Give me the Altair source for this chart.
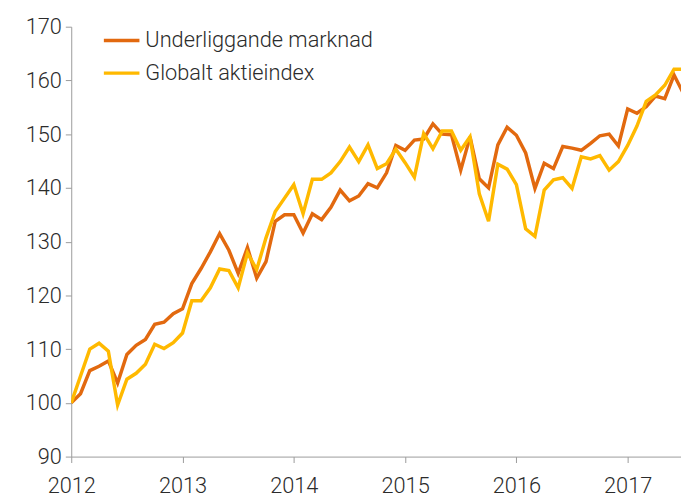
import altair as alt
import pandas as pd

series_names = ["Underliggande marknad", "Globalt aktieindex"]
colors = ["#E2690F", "#FFB900"]

underliggande = [
    100.0, 101.7, 106.0, 106.8, 107.8, 103.7, 109.0, 110.7, 111.8, 114.6, 115.0, 116.6,
    117.5, 122.2, 125.0, 128.1, 131.5, 128.4, 124.1, 128.9, 123.2, 126.3, 133.8, 135.0,
    135.0, 131.6, 135.2, 134.1, 136.4, 139.6, 137.6, 138.5, 140.8, 140.0, 142.8, 147.9,
    147.0, 148.9, 149.1, 151.9, 150.0, 149.9, 143.3, 149.5, 141.7, 140.0, 148.0, 151.3,
    149.8, 146.5, 139.9, 144.6, 143.6, 147.7, 147.4, 147.0, 148.3, 149.7, 150.0, 147.8,
    154.7, 153.9, 155.1, 157.1, 156.6, 161.0, 157.6,
]
globalt = [
    100.0, 105.0, 110.0, 111.1, 109.6, 99.6, 104.4, 105.5, 107.2, 110.9, 110.1, 111.2,
    113.0, 119.0, 119.0, 121.4, 124.9, 124.6, 121.4, 127.9, 124.8, 130.7, 135.6, 138.1,
    140.6, 135.2, 141.6, 141.6, 142.8, 144.9, 147.6, 144.9, 148.0, 143.6, 144.5, 147.2,
    144.7, 142.0, 150.1, 147.3, 150.6, 150.6, 147.0, 149.5, 138.9, 133.8, 144.4, 143.5,
    140.6, 132.4, 131.0, 139.6, 141.5, 141.9, 139.9, 145.8, 145.4, 146.0, 143.3, 144.9,
    147.9, 151.5, 156.1, 157.3, 159.1, 162.1, 162.1,
]
start_year = 2012
year_ticks = [2012, 2013, 2014, 2015, 2016, 2017]
y_ticks = [90, 100, 110, 120, 130, 140, 150, 160, 170]

rows = []
for name, vals in zip(series_names, [underliggande, globalt]):
    for i, v in enumerate(vals):
        rows.append({"t": start_year + i / 12, "serie": name, "v": v})
df = pd.DataFrame(rows)

FONT = "Roboto"
axis_color = "#9a9a9a"
label_color = "#2b2b2b"

chart = alt.Chart(df).mark_line(strokeWidth=3.5, clip=True, strokeJoin="miter").encode(
    x=alt.X("t:Q",
            scale=alt.Scale(domain=[2012, 2012 + 65.75 / 12], nice=False, zero=False),
            axis=alt.Axis(values=year_ticks, format="d", title=None, grid=False,
                          domainColor=axis_color, tickColor=axis_color, tickSize=6,
                          labelFontSize=22, labelColor=label_color, labelFont=FONT,
                          labelFontWeight=300,
                          labelPadding=13, labelFlush=False, labelOverlap=False)),
    y=alt.Y("v:Q",
            scale=alt.Scale(domain=[90, 170], nice=False, zero=False),
            axis=alt.Axis(values=y_ticks, title=None, grid=False,
                          domainColor=axis_color, tickColor=axis_color, tickSize=6,
                          labelFontSize=22, labelColor=label_color, labelFont=FONT,
                          labelFontWeight=300, labelPadding=4)),
    color=alt.Color("serie:N",
                    scale=alt.Scale(domain=series_names, range=colors),
                    legend=alt.Legend(title=None, orient="none", legendX=31, legendY=-6,
                                      symbolType="stroke", symbolSize=1296,
                                      symbolStrokeWidth=3.5, labelFontSize=22,
                                      labelFont=FONT, labelFontWeight=300,
                                      labelColor=label_color, labelLimit=500,
                                      labelOffset=4, rowPadding=2, padding=0)),
    order=alt.Order("t:Q"),
).properties(
    width=617, height=435,
    autosize=alt.AutoSizeParams(type="none"),
    padding={"left": 64, "top": 16, "right": 0, "bottom": 40},
).configure_view(stroke=None)

chart.save("out.html", embed_options={"renderer": "svg", "actions": False})
